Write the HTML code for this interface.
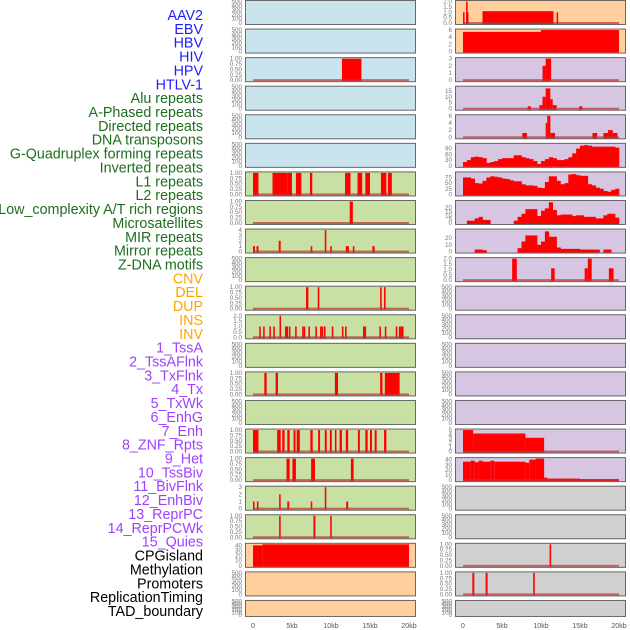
<!DOCTYPE html>
<html><head><meta charset="utf-8"><style>
html,body{margin:0;padding:0;background:#fff;width:630px;height:630px;overflow:hidden}
svg{display:block}
</style></head><body>
<svg id="chart" width="630" height="630" xmlns="http://www.w3.org/2000/svg" font-family="Liberation Sans, sans-serif"></svg>
<script>
// ---- labels ----
const labelNames = ["AAV2","EBV","HBV","HIV","HPV","HTLV-1","Alu repeats","A-Phased repeats","Directed repeats","DNA transposons","G-Quadruplex forming repeats","Inverted repeats","L1 repeats","L2 repeats","Low_complexity A/T rich regions","Microsatellites","MIR repeats","Mirror repeats","Z-DNA motifs","CNV","DEL","DUP","INS","INV","1_TssA","2_TssAFlnk","3_TxFlnk","4_Tx","5_TxWk","6_EnhG","7_Enh","8_ZNF_Rpts","9_Het","10_TssBiv","11_BivFlnk","12_EnhBiv","13_ReprPC","14_ReprPCWk","15_Quies","CPGisland","Methylation","Promoters","ReplicationTiming","TAD_boundary"];
const labelGroups = ["b","b","b","b","b","b","g","g","g","g","g","g","g","g","g","g","g","g","g","o","o","o","o","o","p","p","p","p","p","p","p","p","p","p","p","p","p","p","p","k","k","k","k","k"];
const xTickLabels = ["0","5kb","10kb","15kb","20kb"];
const xTickValues = [0,5,10,15,20];

// ---- track backgrounds per column ----
const leftBg = ["blue","blue","blue","blue","blue","blue","green","green","green","green","green","green","green","green","green","green","green","green","green","orange","orange","orange"];
const rightBg = ["orange","orange","purple","purple","purple","purple","purple","purple","purple","purple","purple","purple","purple","purple","purple","purple","purple","grey","grey","grey","grey","grey"];
const leftYMax = [500,500,1,500,500,500,1,1,4,500,1,2,500,1,500,1,1,3,1,42,500,500];
const rightYMax = [2,6,3,18,6,112,95,28,32,2,500,500,500,500,500,5,42,500,500,1,1,500];
const leftTicks = ["e","e","f","e","e","e","f","f","i4","e","f","h2","e","f","e","f","f","i3","f","c40","e","e"];
const rightTicks = ["h2","i6","i3","t15","i6","t90","t75","t20","t20b","h2","e","e","e","e","e","i5","c40","e","e","f","f","e"];

// ---- data: left column segments [startKb, endKb, value] ----
const L2_hiv = [[11.4,13.9,1]];
const L6_l1 = [[0,0.7,1],[2.5,4.4,1],[4.4,5,1],[5.5,6.2,1],[7.3,7.6,1],[11.8,12.5,1],[13.4,14,1],[14.4,15,1],[16.4,17.1,1],[17.3,17.8,1]];
const L7_l2 = [[12.4,12.8,1]];
const L8_lowc = [[0,0.25,1],[0.45,0.7,1],[3.3,3.55,2],[7.4,7.6,1],[9.2,9.4,4],[9.9,10.1,1],[11.9,12.3,1],[12.8,13,1],[15.3,15.6,1]];
const L10_micro = [[6.8,7.1,1],[8.3,8.5,1],[16.3,16.5,1],[16.8,17,1]];
const L11_mir = [[0.8,1,1],[1.3,1.5,1],[2.1,2.3,1],[2.6,2.8,1],[3.4,3.6,2],[4.1,4.3,1],[4.3,4.5,1],[4.6,4.8,1],[5.4,5.6,1],[6.3,6.5,1],[6.5,6.7,1],[7.1,7.3,1],[8,8.2,1],[8.6,8.8,1],[8.8,9,1],[9.1,9.3,1],[10.1,10.3,1],[11.4,11.6,1],[11.8,12,1],[14.1,14.3,1],[14.3,14.5,1],[16.2,16.4,1],[16.9,17.1,1],[18.3,18.5,1],[18.7,18.9,1],[18.9,19.1,1],[19.1,19.3,1]];
const L13_tx = [[1.45,1.75,1],[2.9,3.2,1],[10.5,10.9,1],[16.3,16.6,1],[16.9,18.8,1]];
const L15_enh = [[0,0.7,1],[3.1,3.55,1],[3.75,4.05,1],[4.4,4.7,1],[5.2,5.45,1],[5.6,6,1],[7.35,7.65,1],[8.35,8.6,1],[9.2,9.45,1],[9.85,10.1,1],[10.5,10.7,1],[11.1,11.4,1],[11.9,12.2,1],[13.45,13.7,1],[14.4,14.7,1],[15,15.25,1],[15.6,15.85,1],[16.8,17.1,1]];
const L16_het = [[4.3,4.7,1],[5.05,5.5,1],[7.45,7.95,1],[12.55,12.9,1]];
const L17_biv = [[0,0.2,1],[0.5,0.7,1],[3.35,3.55,2],[4.4,4.65,1],[7.4,7.6,1],[9.2,9.4,3],[11.95,12.2,1]];
const L18_repr = [[3.35,3.55,1],[7.75,8,1],[9.9,10.1,1]];
const L19_cpg = [[0,1.2,40],[1.2,20,42]];

// ---- data: right column ----
const R0_aav = [[0,0.2,1],[0.4,0.5,2],[0.4,0.7,1],[2.5,11.6,1.1],[12,12.2,1]];
const R1_ebv = [[0,10,5.5],[10,20,6]];
const R2_hbv = [[10.2,10.6,2],[10.6,11.3,3]];
const R3_hiv = [[8.3,8.7,2],[9.8,10.2,3],[10.2,10.6,10],[10.6,11.2,17],[11.2,11.5,8],[11.5,12,3],[14.9,15.3,2]];
const R4_hpv = [[7.6,8.2,1.2],[10.6,10.8,4],[10.8,11.2,6],[11.2,11.8,1.2],[16.6,17.2,1.2],[18,18.6,1.2],[18.6,19.2,2],[19.2,19.8,1.2]];
const R5_g4 = [20,30,45,48,45,40,15,20,25,35,40,40,40,55,55,45,40,35,25,10,25,35,45,40,30,30,35,45,65,90,105,108,105,100,100,100,100,100,100,95];
const R6_inv = [75,75,70,50,48,60,75,80,78,75,70,68,62,58,58,45,40,40,38,30,28,55,80,80,60,45,50,88,90,85,82,82,45,40,30,25,15,12,20,25];
const R7_l1 = [0,3,3,6,8,4,4,0,0,0,0,0,0,3,8,12,18,18,18,9,16,19,27,17,10,11,11,11,9,10,10,8,8,8,6,6,10,12,12,7];
const R8_l2 = [0,0,0,3,3,2,0,0,0,0,0,0,0,0,5,15,24,24,24,10,15,30,22,22,6,4,4,4,4,4,3,3,3,3,3,0,3,3,0,0];
const R9_lowc = [[6.3,6.9,2],[11.3,11.75,1.1],[15.6,16,1.1],[16,16.5,2],[18.7,19.3,1.1]];
const R15_tss = [[0,1.3,5],[1.3,8,4.2],[8,10.4,3.2]];
const R16_flnk = [[0,1,36],[1,1.5,38],[1.5,2,35],[2,2.5,38],[2.5,3.5,36],[3.5,4,38],[4,8,36],[8,8.5,34],[8.5,9.3,40],[9.3,10.4,42],[10.4,10.8,5],[10.8,15,3],[15,20,2]];
const R19_cpg = [[11.1,11.3,1]];
const R20_meth = [[1.2,1.45,1],[2.9,3.15,1],[9,9.2,1]];

const leftData = {2:L2_hiv,6:L6_l1,7:L7_l2,8:L8_lowc,10:L10_micro,11:L11_mir,13:L13_tx,15:L15_enh,16:L16_het,17:L17_biv,18:L18_repr,19:L19_cpg};
const rightData = {0:R0_aav,1:R1_ebv,2:R2_hbv,3:R3_hiv,4:R4_hpv,9:R9_lowc,15:R15_tss,16:R16_flnk,19:R19_cpg,20:R20_meth};
const rightBins = {5:R5_g4,6:R6_inv,7:R7_l1,8:R8_l2};
const baselineLeft = [2,6,7,8,10,11,13,15,16,17,18];
const baselineRight = [0,2,3,4,9,15,16,19,20];

// ---- rendering ----
const NS = "http://www.w3.org/2000/svg";
const svg = document.getElementById("chart");
const colors = {blue:"#c9e4ec",green:"#c8e0a4",orange:"#ffcf9e",purple:"#d6c6e2",grey:"#d0d0d0"};
const labelColors = {b:"#2020ff",g:"#1e6e1e",o:"#ffa500",p:"#a040ff",k:"#000"};
function mk(tag, attrs, parent){ const e=document.createElementNS(NS,tag); for(const k in attrs) e.setAttribute(k,attrs[k]); (parent||svg).appendChild(e); return e; }

labelNames.forEach((t,i)=>{
  const e = mk("text",{x:203,y:20+i*13.86,"text-anchor":"end","font-size":"14.3",fill:labelColors[labelGroups[i]]});
  e.textContent=t;
  
  
});

const cols = [{px:245,x0:253,bg:leftBg,ymax:leftYMax,ticks:leftTicks,data:leftData,bins:{},base:baselineLeft,name:'left'},
              {px:455,x0:463,bg:rightBg,ymax:rightYMax,ticks:rightTicks,data:rightData,bins:rightBins,base:baselineRight,name:'right'}];
const kbPx = 7.8;
function tickSet(code, ymax){
  if(code==="e") return [[0,"0"],[100,"100"],[200,"200"],[300,"300"],[400,"400"],[500,"500"]];
  if(code==="f") return [[0,"0.00"],[0.25,"0.25"],[0.5,"0.50"],[0.75,"0.75"],[1,"1.00"]];
  if(code==="h2") return [[0,"0.0"],[0.5,"0.5"],[1,"1.0"],[1.5,"1.5"],[2,"2.0"]];
  if(code==="i4") return [[0,"0"],[1,"1"],[2,"2"],[3,"3"],[4,"4"]];
  if(code==="i3") return [[0,"0"],[1,"1"],[2,"2"],[3,"3"]];
  if(code==="i6") return [[0,"0"],[2,"2"],[4,"4"],[6,"6"]];
  if(code==="i5") return [[0,"0"],[1,"1"],[2,"2"],[3,"3"],[4,"4"],[5,"5"]];
  if(code==="t15") return [[0,"0"],[5,"5"],[10,"10"],[15,"15"]];
  if(code==="t90") return [[0,"0"],[30,"30"],[60,"60"],[90,"90"]];
  if(code==="t75") return [[0,"0"],[25,"25"],[50,"50"],[75,"75"]];
  if(code==="t20") return [[0,"0"],[5,"5"],[10,"10"],[15,"15"],[20,"20"]];
  if(code==="t20b") return [[0,"0"],[10,"10"],[20,"20"]];
  if(code==="c40") return [[0,"0"],[10,"10"],[20,"20"],[30,"30"],[40,"40"]];
  return [];
}
cols.forEach(c=>{
  c.bg.forEach((bg,r)=>{
    const top = r*28.57, h = r===21?17:25;
    const g = mk("g",{});
    
    
    mk("rect",{x:c.px,y:top,width:171,height:h,fill:colors[bg]},g);
    const yb = top+h-2, yt = top+1.5;
    const ymax = c.ymax[r];
    const yS = v => yb - (v/ymax)*(yb-yt);
    const xS = kb => c.x0 + kb*kbPx;
    tickSet(c.ticks[r], ymax).forEach(([v,l])=>{
      const t = mk("text",{x:c.px-3,y:yS(v)+2,"text-anchor":"end","font-size":"6.3",fill:"#777"},g);
      t.textContent=l;
    });
    (c.data[r]||[]).forEach(([s,e,v])=>{
      const b = mk("rect",{x:xS(s),y:yS(v),width:Math.max(1.5,xS(e)-xS(s)),height:yb-yS(v)+1,fill:"#ff0000"},g);
      
      
    });
    (c.bins[r]||[]).forEach((v,i)=>{
      if(v<=0) return;
      const b = mk("rect",{x:xS(i*0.5),y:yS(v),width:0.5*kbPx+0.3,height:yb-yS(v)+1,fill:"#ff0000"},g);
      
      
    });
    if(c.base.includes(r)) mk("rect",{x:xS(0),y:yb-1,width:20*kbPx,height:2,fill:"#c03030",opacity:"0.7"},g);
    mk("rect",{x:c.px+0.5,y:top+0.5,width:170,height:h-1,fill:"none",stroke:"#555",opacity:"0.85","stroke-width":"1"},g);
  });
  xTickValues.forEach((v,i)=>{
    const t = mk("text",{x:c.x0+v*kbPx,y:628,"text-anchor":"middle","font-size":"7",fill:"#555"});
    t.textContent = xTickLabels[i];
    
    
  });
});
</script>
</body></html>
